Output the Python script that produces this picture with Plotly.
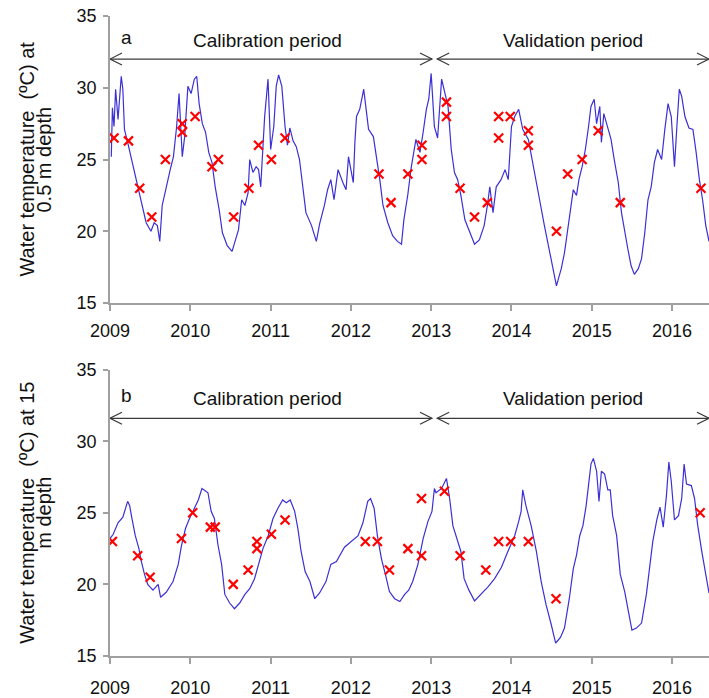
import plotly.graph_objects as go

# ---------------- data ----------------
year_ticks = [2009, 2010, 2011, 2012, 2013, 2014, 2015, 2016]
temp_ticks = [15, 20, 25, 30, 35]

# simulated water temperature at 0.5 m (decimal year, degC)
sim_top_x = [2009.016, 2009.03, 2009.05, 2009.07, 2009.10, 2009.14, 2009.16, 2009.18, 2009.22, 2009.26,
             2009.32, 2009.36, 2009.40, 2009.45, 2009.51, 2009.55, 2009.59, 2009.62, 2009.65, 2009.69,
             2009.75, 2009.79, 2009.83, 2009.86, 2009.88, 2009.90, 2009.93, 2009.97, 2010.01, 2010.05,
             2010.08, 2010.11, 2010.15, 2010.19, 2010.23, 2010.27, 2010.31, 2010.36, 2010.40, 2010.46,
             2010.52, 2010.56, 2010.60, 2010.64, 2010.68, 2010.72, 2010.74, 2010.78, 2010.82, 2010.85,
             2010.877, 2010.926, 2010.968, 2011.001, 2011.04, 2011.07, 2011.10, 2011.14, 2011.18, 2011.21,
             2011.24, 2011.28, 2011.32, 2011.36, 2011.40, 2011.44, 2011.51, 2011.57, 2011.61, 2011.67,
             2011.71, 2011.75, 2011.79, 2011.84, 2011.90, 2011.94, 2011.97, 2012.03, 2012.05, 2012.07,
             2012.11, 2012.16, 2012.19, 2012.22, 2012.28, 2012.32, 2012.36, 2012.40, 2012.46, 2012.52,
             2012.58, 2012.63, 2012.66, 2012.71, 2012.75, 2012.81, 2012.86, 2012.90, 2012.94, 2012.97,
             2013.00, 2013.04, 2013.08, 2013.13, 2013.17, 2013.21, 2013.25, 2013.29, 2013.33, 2013.37,
             2013.42, 2013.48, 2013.54, 2013.60, 2013.66, 2013.70, 2013.73, 2013.77, 2013.81, 2013.87,
             2013.92, 2013.96, 2014.00, 2014.04, 2014.09, 2014.14, 2014.21, 2014.25, 2014.29, 2014.35,
             2014.41, 2014.48, 2014.52, 2014.56, 2014.60, 2014.62, 2014.66, 2014.72, 2014.77, 2014.81,
             2014.84, 2014.88, 2014.92, 2014.96, 2014.99, 2015.03, 2015.06, 2015.10, 2015.12, 2015.15,
             2015.20, 2015.24, 2015.28, 2015.33, 2015.37, 2015.41, 2015.45, 2015.49, 2015.53, 2015.58,
             2015.62, 2015.66, 2015.70, 2015.74, 2015.78, 2015.82, 2015.87, 2015.91, 2015.95, 2015.99,
             2016.03, 2016.06, 2016.09, 2016.12, 2016.16, 2016.21, 2016.26, 2016.30, 2016.34, 2016.38,
             2016.42, 2016.46]
sim_top_y = [25.2, 28.6, 27.3, 29.9, 27.8, 30.8, 29.9, 27.1, 26.2, 25.2,
             23.8, 22.7, 21.8, 20.6, 20.0, 20.6, 20.4, 19.3, 21.8, 22.9,
             24.3, 25.2, 27.3, 29.6, 27.0, 25.2, 26.6, 30.1, 29.6, 30.6,
             30.8, 28.9, 27.5, 26.9, 25.5, 24.8, 23.1, 21.5, 19.9, 19.0,
             18.6, 19.3, 20.1, 22.2, 21.8, 22.7, 25.0, 24.1, 24.5, 24.3,
             23.1, 28.0, 30.6, 25.7, 27.3, 30.1, 30.9, 30.1, 27.3, 26.0,
             27.2, 26.3, 25.9, 25.0, 23.1, 21.3, 20.4, 19.3, 20.5, 21.8,
             22.9, 23.6, 22.2, 24.3, 23.4, 22.9, 25.2, 23.4, 26.2, 28.0,
             28.5, 29.9, 28.5, 27.1, 26.6, 25.2, 23.6, 21.8, 20.6, 19.7,
             19.3, 19.1, 20.8, 22.6, 24.4, 26.4, 25.5, 26.9, 28.5, 29.2,
             31.0, 27.3, 26.5, 30.6, 29.6, 28.7, 25.7, 24.1, 23.6, 22.5,
             20.8, 19.9, 19.1, 19.4, 20.4, 21.8, 23.1, 21.3, 23.1, 23.6,
             24.3, 23.6, 27.3, 28.0, 28.5, 27.1, 26.4, 25.2, 24.1, 22.2,
             20.4, 18.5, 17.4, 16.2, 17.0, 17.4, 18.5, 20.8, 22.9, 22.5,
             23.6, 24.5, 25.7, 27.3, 28.7, 29.2, 27.5, 28.7, 26.2, 28.2,
             27.1, 26.4, 25.0, 23.4, 21.3, 19.9, 18.75, 17.6, 17.0, 17.4,
             18.1, 19.9, 22.2, 23.1, 24.8, 25.7, 25.0, 27.1, 28.9, 28.0,
             24.5, 27.3, 29.9, 29.4, 28.0, 27.2, 27.1, 25.5, 23.6, 22.2,
             20.4, 19.3]

# observed at 0.5 m
obs_top_x = [2009.05, 2009.23, 2009.37, 2009.52, 2009.69, 2009.90, 2009.90, 2010.06, 2010.27, 2010.35,
             2010.54, 2010.73, 2010.85, 2011.01, 2011.18, 2012.35, 2012.50, 2012.71, 2012.885, 2012.885,
             2013.19, 2013.19, 2013.36, 2013.54, 2013.70, 2013.84, 2013.84, 2013.985, 2014.21, 2014.21,
             2014.56, 2014.70, 2014.88, 2015.08, 2015.355, 2016.36]
obs_top_y = [26.5, 26.3, 23.0, 21.0, 25.0, 27.5, 26.9, 28.0, 24.5, 25.0,
             21.0, 23.0, 26.0, 25.0, 26.5, 24.0, 22.0, 24.0, 26.0, 25.0,
             29.0, 28.0, 23.0, 21.0, 22.0, 28.0, 26.5, 28.0, 27.0, 26.0,
             20.0, 24.0, 25.0, 27.0, 22.0, 23.0]

# simulated water temperature at 15 m
sim_bot_x = [2009.00, 2009.04, 2009.10, 2009.16, 2009.22, 2009.245, 2009.27, 2009.315, 2009.36, 2009.39,
             2009.43, 2009.47, 2009.535, 2009.60, 2009.63, 2009.70, 2009.785, 2009.85, 2009.89, 2009.94,
             2009.99, 2010.05, 2010.10, 2010.145, 2010.19, 2010.22, 2010.26, 2010.30, 2010.345, 2010.39,
             2010.43, 2010.49, 2010.55, 2010.615, 2010.68, 2010.74, 2010.80, 2010.85, 2010.905, 2010.97,
             2011.03, 2011.09, 2011.15, 2011.195, 2011.245, 2011.30, 2011.34, 2011.38, 2011.43, 2011.49,
             2011.55, 2011.61, 2011.69, 2011.75, 2011.82, 2011.92, 2012.005, 2012.09, 2012.15, 2012.21,
             2012.245, 2012.29, 2012.33, 2012.38, 2012.43, 2012.48, 2012.545, 2012.61, 2012.67, 2012.72,
             2012.77, 2012.835, 2012.90, 2012.96, 2013.01, 2013.04, 2013.06, 2013.13, 2013.19, 2013.23,
             2013.27, 2013.31, 2013.37, 2013.41, 2013.47, 2013.54, 2013.62, 2013.71, 2013.79, 2013.875,
             2013.955, 2014.04, 2014.09, 2014.12, 2014.14, 2014.18, 2014.245, 2014.31, 2014.37, 2014.43,
             2014.495, 2014.55, 2014.58, 2014.61, 2014.66, 2014.72, 2014.77, 2014.81, 2014.85, 2014.89,
             2014.93, 2014.96, 2014.99, 2015.02, 2015.06, 2015.09, 2015.12, 2015.16, 2015.20, 2015.23,
             2015.26, 2015.31, 2015.355, 2015.41, 2015.46, 2015.50, 2015.555, 2015.62, 2015.68, 2015.72,
             2015.76, 2015.81, 2015.85, 2015.89, 2015.93, 2015.96, 2015.99, 2016.03, 2016.08, 2016.12,
             2016.15, 2016.18, 2016.24, 2016.28, 2016.32, 2016.37, 2016.41, 2016.46]
sim_bot_y = [23.2, 23.5, 24.3, 24.7, 25.8, 25.5, 24.7, 23.4, 22.5, 21.6,
             20.7, 20.0, 19.6, 20.0, 19.1, 19.45, 20.2, 21.4, 22.7, 23.9,
             24.6, 25.3, 25.9, 26.7, 26.5, 26.4, 25.1, 24.6, 22.75, 21.4,
             19.3, 18.7, 18.3, 18.7, 19.3, 19.7, 20.4, 21.5, 22.5, 23.4,
             24.6, 25.3, 25.9, 25.7, 25.9, 25.1, 23.9, 22.3, 20.9, 20.2,
             19.0, 19.4, 20.2, 21.4, 21.6, 22.6, 23.0, 23.4, 24.3, 25.8,
             26.0, 25.3, 23.4, 21.8, 20.7, 19.5, 19.0, 18.8, 19.3, 19.6,
             20.2, 21.4, 23.2, 24.4, 25.1, 26.7, 26.4, 26.7, 27.4, 26.0,
             24.1, 23.4, 22.3, 20.4, 19.6, 18.85, 19.3, 19.85, 20.4, 21.2,
             22.3, 23.4, 24.4, 25.1, 26.6, 25.5, 24.1, 22.3, 20.2, 18.6,
             17.2, 15.9, 16.1, 16.3, 16.95, 19.0, 21.1, 22.05, 23.4, 24.1,
             25.5, 27.2, 28.4, 28.8, 27.9, 25.8, 27.9, 27.7, 26.6, 26.6,
             24.8, 23.4, 20.7, 19.5, 17.9, 16.8, 16.95, 17.3, 19.3, 21.1,
             23.0, 24.5, 25.4, 24.0, 26.2, 28.55, 27.2, 24.5, 24.8, 26.0,
             28.4, 27.0, 26.9, 26.0, 24.1, 22.3, 20.9, 19.4]

# observed at 15 m
obs_bot_x = [2009.03, 2009.345, 2009.50, 2009.89, 2010.03, 2010.25, 2010.31, 2010.535, 2010.72, 2010.83,
             2010.83, 2011.01, 2011.18, 2012.18, 2012.33, 2012.48, 2012.71, 2012.88, 2012.88, 2013.165,
             2013.36, 2013.68, 2013.84, 2013.99, 2014.21, 2014.555, 2016.35]
obs_bot_y = [23.0, 22.0, 20.5, 23.2, 25.0, 24.0, 24.0, 20.0, 21.0, 23.0,
             22.5, 23.5, 24.5, 23.0, 23.0, 21.0, 22.5, 26.0, 22.0, 26.5,
             22.0, 21.0, 23.0, 23.0, 23.0, 19.0, 25.0]

# periods (decimal years)
cal_start, cal_end = 2009.0, 2013.01
val_start, val_end = 2013.075, 2016.46
x_min, x_max = 2009.0, 2016.46

# ---------------- styling ----------------
FONT = "Liberation Sans, Arial, sans-serif"
BLUE = "#3b30d6"
AXIS_GREY = "#a0a0a0"
ARROW = "#3a3a3a"

fig = go.Figure()

panels = [
    ("x", "y", sim_top_x, sim_top_y, obs_top_x, obs_top_y),
    ("x2", "y2", sim_bot_x, sim_bot_y, obs_bot_x, obs_bot_y),
]
for xa, ya, sx, sy, ox, oy in panels:
    fig.add_trace(go.Scatter(x=sx, y=sy, mode="lines", xaxis=xa, yaxis=ya,
                             line=dict(color=BLUE, width=1.2), showlegend=False,
                             hoverinfo="skip"))
    fig.add_trace(go.Scatter(x=ox, y=oy, mode="markers", xaxis=xa, yaxis=ya,
                             marker=dict(symbol="x-thin", size=9, color="red",
                                         line=dict(color="red", width=2.2)),
                             showlegend=False, hoverinfo="skip"))

top_dom = [0.5514, 1.0]
bot_dom = [0.0, 0.4475]

def xaxis_cfg(anchor, standoff):
    return dict(domain=[0, 1], anchor=anchor, range=[x_min, x_max],
                tickvals=year_ticks, ticktext=[str(v) for v in year_ticks],
                showline=True, linecolor=AXIS_GREY, linewidth=1.5,
                ticks="outside", ticklen=6, tickwidth=1.5, tickcolor=AXIS_GREY,
                ticklabelstandoff=standoff,
                showgrid=False, zeroline=False,
                tickfont=dict(family=FONT, size=18, color="#111"))

def yaxis_cfg(anchor, dom):
    return dict(domain=dom, anchor=anchor, range=[15, 35],
                tickvals=temp_ticks, ticktext=[str(v) for v in temp_ticks],
                showline=True, linecolor=AXIS_GREY, linewidth=1.5,
                ticks="outside", ticklen=5, tickwidth=1.5, tickcolor=AXIS_GREY,
                ticklabelstandoff=3,
                showgrid=False, zeroline=False,
                tickfont=dict(family=FONT, size=18, color="#111"))

shapes = []
annotations = []

def add_arrow(xr, yr, x0, x1, yv):
    shapes.append(dict(type="line", xref=xr, yref=yr, x0=x0, x1=x1, y0=yv, y1=yv,
                       line=dict(color=ARROW, width=1.2)))
    # left-pointing head at x0, right-pointing head at x1
    shapes.append(dict(type="path", xref=xr, yref=yr, xsizemode="pixel", ysizemode="pixel",
                       xanchor=x0, yanchor=yv, path="M 12,6 L 0,0 L 12,-6",
                       line=dict(color=ARROW, width=1.2)))
    shapes.append(dict(type="path", xref=xr, yref=yr, xsizemode="pixel", ysizemode="pixel",
                       xanchor=x1, yanchor=yv, path="M -12,6 L 0,0 L -12,-6",
                       line=dict(color=ARROW, width=1.2)))

panel_cfg = [
    ("x", "y", "a", 32.0, 33.3, top_dom,
     "Water temperature  (ºC) at", "0.5 m depth"),
    ("x2", "y2", "b", 31.6, 33.0, bot_dom,
     "Water temperature  (ºC) at 15", "m depth"),
]
for xr, yr, letter, yarrow, ytext, dom, t1, t2 in panel_cfg:
    add_arrow(xr, yr, cal_start, cal_end, yarrow)
    add_arrow(xr, yr, val_start, val_end, yarrow)
    annotations.append(dict(xref=xr, yref=yr, x=(cal_start + cal_end) / 2 - 0.04, y=ytext,
                            text="Calibration period", showarrow=False,
                            font=dict(family=FONT, size=19, color="#111")))
    annotations.append(dict(xref=xr, yref=yr, x=(val_start + val_end) / 2, y=ytext,
                            text="Validation period", showarrow=False,
                            font=dict(family=FONT, size=19, color="#111")))
    annotations.append(dict(xref=xr, yref=yr, x=cal_start + 0.21, y=ytext + 0.2,
                            text=letter, showarrow=False,
                            font=dict(family=FONT, size=19, color="#111")))
    ymid = (dom[0] + dom[1]) / 2
    annotations.append(dict(xref="paper", yref="paper", x=0, y=ymid, xshift=-83,
                            text=t1, showarrow=False, textangle=-90,
                            xanchor="center", yanchor="middle",
                            font=dict(family=FONT, size=20, color="#111")))
    annotations.append(dict(xref="paper", yref="paper", x=0, y=ymid, xshift=-66,
                            text=t2, showarrow=False, textangle=-90,
                            xanchor="center", yanchor="middle",
                            font=dict(family=FONT, size=20, color="#111")))

fig.update_layout(
    width=709, height=698,
    margin=dict(l=110, r=0, t=16, b=40),
    paper_bgcolor="white", plot_bgcolor="white",
    xaxis=xaxis_cfg("y", 5), yaxis=yaxis_cfg("x", top_dom),
    xaxis2=xaxis_cfg("y2", 9), yaxis2=yaxis_cfg("x2", bot_dom),
    shapes=shapes, annotations=annotations,
    font=dict(family=FONT, color="#111"),
    showlegend=False,
)

fig.write_html("out.html")
